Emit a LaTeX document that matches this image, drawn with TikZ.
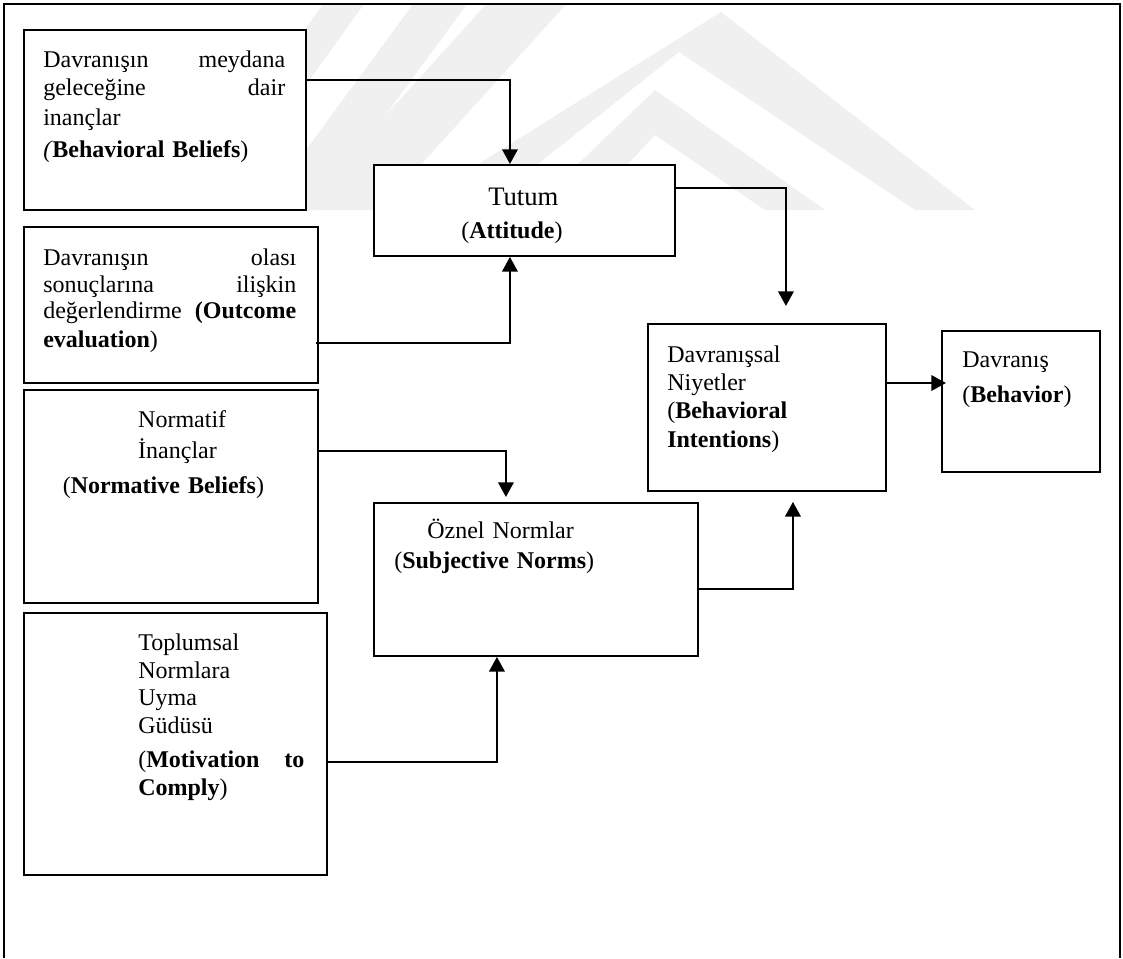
\documentclass[tikz,border=0pt]{standalone}
\usepackage{fontspec}
\setmainfont{Liberation Serif}
\usetikzlibrary{arrows.meta,calc}
\newcommand{\jline}[3]{\leavevmode\hbox to #1{#2\hfill #3}}
\tikzset{
  box/.style={draw, line width=1.4pt, fill=white, inner sep=0pt, anchor=north west},
  txt/.style={anchor=base west, inner sep=0pt, align=left, text width=#1, font=\fontsize{18}{21}\selectfont},
  arr/.style={line width=1.8pt, -{Triangle[length=11pt,width=11.5pt]}},
  wm/.style={fill=black!6, draw=none},
  frame/.style={line width=1.5pt}
}
\begin{document}
\begin{tikzpicture}[x=0.75pt,y=-0.75pt]
\useasboundingbox (0,0) rectangle (1123,958);
% watermark
\begin{scope}
\clip (4,4) rectangle (1120,958);
\fill[wm] (175,210) -- (216,210) -- (367,0) -- (326,0) -- cycle;
\fill[wm] (262,210) -- (316,210) -- (470,0) -- (416,0) -- cycle;
\fill[wm] (300,210) -- (380,210) -- (570,0) -- (490,0) -- cycle;
\fill[wm] (721,12) -- (975,210) -- (915,210) -- (679,52) -- (480,210) -- (405,210) -- cycle;
\fill[wm] (655,90) -- (825,210) -- (765,210) -- (655,135) -- (585,210) -- (530,210) -- cycle;
\end{scope}
% frame
\draw[frame] (4,958) -- (4,4) -- (1120,4) -- (1120,958);
% boxes
\node[box, minimum width=211.5pt, minimum height=135pt] (bb) at (23,29) {};
\node[box, minimum width=220.5pt, minimum height=117pt] (oe) at (23,226) {};
\node[box, minimum width=220.5pt, minimum height=159.75pt] (nb) at (23,389) {};
\node[box, minimum width=227.25pt, minimum height=196.5pt] (mc) at (23,612) {};
\node[box, minimum width=225.75pt, minimum height=68.25pt] (att) at (373,164) {};
\node[box, minimum width=243pt, minimum height=114.75pt] (sn) at (373,502) {};
\node[box, minimum width=178.5pt, minimum height=125.25pt] (bi) at (647,323) {};
\node[box, minimum width=118.5pt, minimum height=105.75pt] (beh) at (941,330) {};
% texts
\node[txt=185pt] (t1) at (43,67) {\jline{181.5pt}{Davranışın}{meydana}\\
\jline{181.5pt}{geleceğine}{dair}\\[1.5pt]
inançlar\\[3pt]
\textit{(}\textbf{Behavioral Beliefs})};
\node[txt=192pt] (t2) at (43,265) {\jline{189.75pt}{Davranışın}{olası}\\[-0.75pt]
\jline{189.75pt}{sonuçlarına}{ilişkin}\\[-1.5pt]
\jline{189.75pt}{değerlendirme}{\textbf{(Outcome}}\\[0.75pt]
\textbf{evaluation})};
\node[txt=180pt] (t3) at (62.5,427) {\hspace*{56.6pt}Normatif\\[2.25pt]
\hspace*{56.6pt}İnançlar\\[5.25pt]
(\textbf{Normative Beliefs})};
\node[txt=130pt] (t4) at (138,650) {Toplumsal\\
Normlara\\[-0.75pt]
Uyma\\
Güdüsü\\[4.5pt]
\jline{124.5pt}{(\textbf{Motivation}}{\textbf{to}}\\
\textbf{Comply})};
\node[txt=150pt] (tatt) at (461,205) {\hspace*{20.25pt}{\fontsize{20}{21}\selectfont Tutum}\\[3.75pt]
(\textbf{Attitude})};
\node[txt=170pt] (tsn) at (394,538) {\hspace*{24.75pt}Öznel Normlar\\[1.5pt]
(\textbf{Subjective Norms})};
\node[txt=160pt] (tbi) at (667,362) {Davranışsal\\
Niyetler\\
(\textbf{Behavioral}\\[0.75pt]
\textbf{Intentions})};
\node[txt=100pt] (tbeh) at (962,367) {Davranış\\[5.25pt]
(\textbf{Behavior})};
% connectors
\draw[arr] ($(bb.north east)+(0,51)$) -| ($(att.north)+(-14.5,0)$);
\draw[arr] ($(oe.north east)+(-3,117)$) -| ($(att.south)+(-14.5,0)$);
\draw[arr] ($(att.north east)+(0,24)$) -| ($(bi.north)+(19,-17)$);
\draw[arr] ($(nb.north east)+(0,62)$) -| ($(sn.north)+(-30,-5)$);
\draw[arr] ($(mc.north east)+(0,150)$) -| ($(sn.south)+(-39,0)$);
\draw[arr] ($(sn.north east)+(0,87)$) -| ($(bi.south)+(26,10)$);
\draw[arr] ($(bi.north east)+(0,60)$) -- ($(beh.north west)+(5,53)$);
\end{tikzpicture}
\end{document}
